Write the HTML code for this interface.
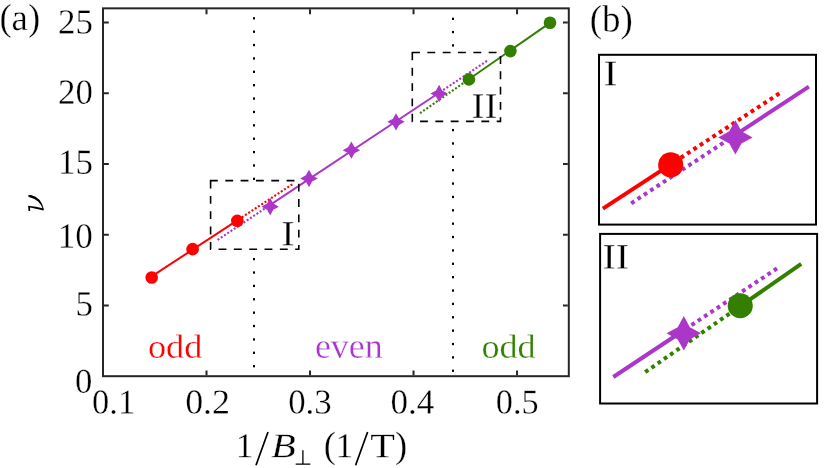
<!DOCTYPE html>
<html><head><meta charset="utf-8"><title>figure</title>
<style>html,body{margin:0;padding:0;background:#fff;}svg{display:block;will-change:transform;}text{font-family:"Liberation Serif",serif;font-kerning:none;stroke:#fff;stroke-width:0.3px;}</style>
</head><body>
<svg width="830" height="468" viewBox="0 0 830 468">
<rect x="0" y="0" width="830" height="468" fill="#ffffff"/>
<rect x="253.00" y="17.15" width="2" height="2.3" fill="#000"/><rect x="253.00" y="30.53" width="2" height="2.3" fill="#000"/><rect x="253.00" y="43.91" width="2" height="2.3" fill="#000"/><rect x="253.00" y="57.29" width="2" height="2.3" fill="#000"/><rect x="253.00" y="70.67" width="2" height="2.3" fill="#000"/><rect x="253.00" y="84.05" width="2" height="2.3" fill="#000"/><rect x="253.00" y="97.43" width="2" height="2.3" fill="#000"/><rect x="253.00" y="110.81" width="2" height="2.3" fill="#000"/><rect x="253.00" y="124.19" width="2" height="2.3" fill="#000"/><rect x="253.00" y="137.57" width="2" height="2.3" fill="#000"/><rect x="253.00" y="150.95" width="2" height="2.3" fill="#000"/><rect x="253.00" y="164.33" width="2" height="2.3" fill="#000"/><rect x="253.00" y="177.71" width="2" height="2.3" fill="#000"/><rect x="253.00" y="257.99" width="2" height="2.3" fill="#000"/><rect x="253.00" y="271.37" width="2" height="2.3" fill="#000"/><rect x="253.00" y="284.75" width="2" height="2.3" fill="#000"/><rect x="253.00" y="298.13" width="2" height="2.3" fill="#000"/><rect x="253.00" y="311.51" width="2" height="2.3" fill="#000"/><rect x="253.00" y="324.89" width="2" height="2.3" fill="#000"/><rect x="253.00" y="338.27" width="2" height="2.3" fill="#000"/><rect x="253.00" y="351.65" width="2" height="2.3" fill="#000"/><rect x="253.00" y="365.03" width="2" height="2.3" fill="#000"/>
<rect x="452.00" y="17.70" width="2" height="2.3" fill="#000"/><rect x="452.00" y="30.90" width="2" height="2.3" fill="#000"/><rect x="452.00" y="44.25" width="2" height="2.3" fill="#000"/><rect x="452.00" y="128.95" width="2" height="2.3" fill="#000"/><rect x="452.00" y="142.32" width="2" height="2.3" fill="#000"/><rect x="452.00" y="155.69" width="2" height="2.3" fill="#000"/><rect x="452.00" y="169.06" width="2" height="2.3" fill="#000"/><rect x="452.00" y="182.43" width="2" height="2.3" fill="#000"/><rect x="452.00" y="195.80" width="2" height="2.3" fill="#000"/><rect x="452.00" y="209.17" width="2" height="2.3" fill="#000"/><rect x="452.00" y="222.54" width="2" height="2.3" fill="#000"/><rect x="452.00" y="235.91" width="2" height="2.3" fill="#000"/><rect x="452.00" y="249.28" width="2" height="2.3" fill="#000"/><rect x="452.00" y="262.65" width="2" height="2.3" fill="#000"/><rect x="452.00" y="276.02" width="2" height="2.3" fill="#000"/><rect x="452.00" y="289.39" width="2" height="2.3" fill="#000"/><rect x="452.00" y="302.76" width="2" height="2.3" fill="#000"/><rect x="452.00" y="316.13" width="2" height="2.3" fill="#000"/><rect x="452.00" y="329.50" width="2" height="2.3" fill="#000"/><rect x="452.00" y="342.87" width="2" height="2.3" fill="#000"/><rect x="452.00" y="356.24" width="2" height="2.3" fill="#000"/><rect x="452.00" y="369.61" width="2" height="2.3" fill="#000"/>
<path d="M292.30,184.30 L237.30,220.33" fill="none" stroke="#ff0000" stroke-width="2.15" stroke-dasharray="2.0 1.89"/>
<path d="M217.60,239.90 L270.20,204.95" fill="none" stroke="#aa36ca" stroke-width="2.15" stroke-dasharray="2.0 1.89"/>
<path d="M487.00,60.90 L439.10,92.73" fill="none" stroke="#aa36ca" stroke-width="2.15" stroke-dasharray="2.0 1.89"/>
<path d="M420.00,113.20 L468.90,79.21" fill="none" stroke="#338000" stroke-width="2.15" stroke-dasharray="2.0 1.89"/>
<path d="M151.70,276.40 L237.30,220.33" fill="none" stroke="#ff0000" stroke-width="2"/>
<path d="M270.20,204.95 L439.10,92.73" fill="none" stroke="#aa36ca" stroke-width="2"/>
<path d="M468.90,79.21 L550.00,22.85" fill="none" stroke="#338000" stroke-width="2"/>
<circle cx="151.70" cy="277.46" r="6.3" fill="#ff0000"/>
<circle cx="192.60" cy="249.17" r="6.3" fill="#ff0000"/>
<circle cx="237.30" cy="220.87" r="6.3" fill="#ff0000"/>
<circle cx="468.90" cy="79.39" r="6.3" fill="#338000"/>
<circle cx="510.40" cy="51.09" r="6.3" fill="#338000"/>
<circle cx="550.00" cy="22.80" r="6.3" fill="#338000"/>
<polygon points="270.20,198.02 273.31,203.61 278.90,206.72 273.31,209.83 270.20,215.42 267.09,209.83 261.50,206.72 267.09,203.61" fill="#aa36ca"/>
<polygon points="309.00,169.73 312.11,175.32 317.70,178.43 312.11,181.54 309.00,187.13 305.89,181.54 300.30,178.43 305.89,175.32" fill="#aa36ca"/>
<polygon points="351.40,141.43 354.51,147.02 360.10,150.13 354.51,153.24 351.40,158.83 348.29,153.24 342.70,150.13 348.29,147.02" fill="#aa36ca"/>
<polygon points="396.00,113.13 399.11,118.72 404.70,121.83 399.11,124.95 396.00,130.53 392.89,124.95 387.30,121.83 392.89,118.72" fill="#aa36ca"/>
<polygon points="439.10,84.84 442.21,90.43 447.80,93.54 442.21,96.65 439.10,102.24 435.99,96.65 430.40,93.54 435.99,90.43" fill="#aa36ca"/>
<path d="M210.60,180.60 V249.30 H298.80 V180.60 Z" fill="none" stroke="#000" stroke-width="1.6" stroke-dasharray="7.85 7.48"/>
<path d="M412.30,52.50 V121.40 H500.50 V52.50 Z" fill="none" stroke="#000" stroke-width="1.6" stroke-dasharray="7.85 7.48"/>
<rect x="103.00" y="8.35" width="465.80" height="367.85" fill="none" stroke="#262626" stroke-width="2"/>
<path d="M206.51,375.20 v-4.8 M206.51,9.35 v4.8 M310.02,375.20 v-4.8 M310.02,9.35 v4.8 M413.53,375.20 v-4.8 M413.53,9.35 v4.8 M517.04,375.20 v-4.8 M517.04,9.35 v4.8 M104.00,305.46 h4.8 M567.80,305.46 h-4.8 M104.00,234.72 h4.8 M567.80,234.72 h-4.8 M104.00,163.98 h4.8 M567.80,163.98 h-4.8 M104.00,93.24 h4.8 M567.80,93.24 h-4.8 M104.00,22.50 h4.8 M567.80,22.50 h-4.8" fill="none" stroke="#262626" stroke-width="2"/>
<text transform="matrix(0.9930 0.00199 -0.00204 1.0189 75.48 315.55)" font-size="35" fill="#000">5</text>
<text transform="matrix(1.0003 0.00200 -0.00203 1.0162 57.82 247.65)" font-size="35" fill="#000">10</text>
<text transform="matrix(0.9981 0.00200 -0.00202 1.0108 57.93 173.65)" font-size="35" fill="#000">15</text>
<text transform="matrix(0.9960 0.00199 -0.00202 1.0119 57.97 103.65)" font-size="35" fill="#000">20</text>
<text transform="matrix(0.9970 0.00199 -0.00202 1.0078 57.97 33.46)" font-size="35" fill="#000">25</text>
<text transform="matrix(0.9910 0.00198 -0.00200 0.9992 75.08 392.76)" font-size="35" fill="#000">0</text>
<text transform="matrix(0.9847 0.00197 -0.00199 0.9970 92.09 413.41)" font-size="35" fill="#000">0.1</text>
<text transform="matrix(1.0275 0.00206 -0.00199 0.9970 185.13 413.41)" font-size="35" fill="#000">0.2</text>
<text transform="matrix(0.9964 0.00199 -0.00199 0.9970 288.17 413.41)" font-size="35" fill="#000">0.3</text>
<text transform="matrix(1.0007 0.00200 -0.00199 0.9970 390.57 413.41)" font-size="35" fill="#000">0.4</text>
<text transform="matrix(0.9793 0.00196 -0.00199 0.9970 495.79 413.41)" font-size="35" fill="#000">0.5</text>
<text transform="matrix(1.0484 0.00210 -0.00216 1.0808 -0.61 30.05)" font-size="35" fill="#000">(a)</text>
<text transform="matrix(1.0547 0.00211 -0.00219 1.0934 589.68 31.55)" font-size="35" fill="#000">(b)</text>
<text transform="matrix(1.0367 0.00207 -0.00192 0.9624 147.92 357.67)" font-size="35" fill="#ff0000">odd</text>
<text transform="matrix(1.0254 0.00205 -0.00202 1.0099 314.90 357.65)" font-size="35" fill="#aa36ca">even</text>
<text transform="matrix(1.0308 0.00206 -0.00192 0.9624 481.43 357.67)" font-size="35" fill="#338000">odd</text>
<text transform="matrix(1.1463 0.00229 -0.00205 1.0254 281.25 245.60)" font-size="35" fill="#000">I</text>
<text transform="matrix(1.1098 0.00222 -0.00207 1.0341 471.60 117.90)" font-size="35" fill="#000">II</text>
<text transform="matrix(1.2009 0.00240 -0.00209 1.0472 603.58 85.40)" font-size="35" fill="#000">I</text>
<text transform="matrix(1.1338 0.00227 -0.00207 1.0341 602.47 268.80)" font-size="35" fill="#000">II</text>
<text transform="matrix(1.0145 0.00203 -0.00198 0.9911 235.78 457.20)" font-size="35" fill="#000">1</text>
<text transform="matrix(1.1437 0.00229 -0.00197 0.9861 271.13 457.30)" font-size="35" fill="#000" font-style="italic">B</text>
<text transform="matrix(1.0457 0.00209 -0.00215 1.0745 323.79 457.59)" font-size="35" fill="#000">(</text>
<text transform="matrix(1.0145 0.00203 -0.00198 0.9911 335.48 457.20)" font-size="35" fill="#000">1</text>
<text transform="matrix(1.1505 0.00230 -0.00196 0.9818 370.37 457.20)" font-size="35" fill="#000">T</text>
<text transform="matrix(1.0457 0.00209 -0.00215 1.0745 395.02 457.59)" font-size="35" fill="#000">)</text>
<path d="M256.0,465.2 L268.0,432.0 M355.6,465.2 L367.6,432.0" stroke="#000" stroke-width="1.7" fill="none"/>
<path d="M295.7,464.2 H310.3 M302.9,450.3 V464.2" stroke="#000" stroke-width="1.3" fill="none"/>
<path d="M27.89,195.78 Q28.94,194.67 30.89,195.00 Q35.89,196.00 39.67,200.00 Q42.83,203.89 43.89,209.56 L43.56,210.44 L35.89,208.72 L30.11,207.61 L30.11,210.89 L28.50,210.89 L28.11,205.67 L35.89,206.67 L42.44,208.33 Q41.17,204.56 38.11,201.56 Q34.50,198.33 30.33,197.56 Q28.67,197.22 27.89,195.78 Z" fill="#000"/>
<text x="-100" y="-100" font-size="10" font-style="italic">ν</text>
<rect x="599" y="54.8" width="217" height="169.8" fill="none" stroke="#000" stroke-width="2"/>
<rect x="600.1" y="233.9" width="217" height="169.6" fill="none" stroke="#000" stroke-width="2"/>
<path d="M779.40,93.40 L670.70,164.35" fill="none" stroke="#ff0000" stroke-width="4" stroke-dasharray="3.8 3.8"/>
<path d="M631.20,203.30 L735.40,134.87" fill="none" stroke="#aa36ca" stroke-width="4" stroke-dasharray="3.8 3.8"/>
<path d="M602.90,208.60 L670.70,164.35" fill="none" stroke="#ff0000" stroke-width="4"/>
<path d="M735.40,134.87 L808.90,86.60" fill="none" stroke="#aa36ca" stroke-width="4"/>
<circle cx="670.70" cy="164.90" r="12.55" fill="#ff0000"/>
<polygon points="735.40,120.20 741.48,131.32 752.60,137.40 741.48,143.48 735.40,154.60 729.32,143.48 718.20,137.40 729.32,131.32" fill="#aa36ca"/>
<path d="M777.00,268.40 L683.80,330.23" fill="none" stroke="#aa36ca" stroke-width="4" stroke-dasharray="3.8 3.8"/>
<path d="M645.20,372.10 L740.25,306.17" fill="none" stroke="#338000" stroke-width="4" stroke-dasharray="3.8 3.8"/>
<path d="M613.30,377.00 L683.80,330.23" fill="none" stroke="#aa36ca" stroke-width="4"/>
<path d="M740.25,306.17 L801.20,263.90" fill="none" stroke="#338000" stroke-width="4"/>
<circle cx="740.25" cy="305.75" r="12.55" fill="#338000"/>
<polygon points="683.80,316.10 689.88,327.22 701.00,333.30 689.88,339.38 683.80,350.50 677.72,339.38 666.60,333.30 677.72,327.22" fill="#aa36ca"/>
</svg></body></html>
